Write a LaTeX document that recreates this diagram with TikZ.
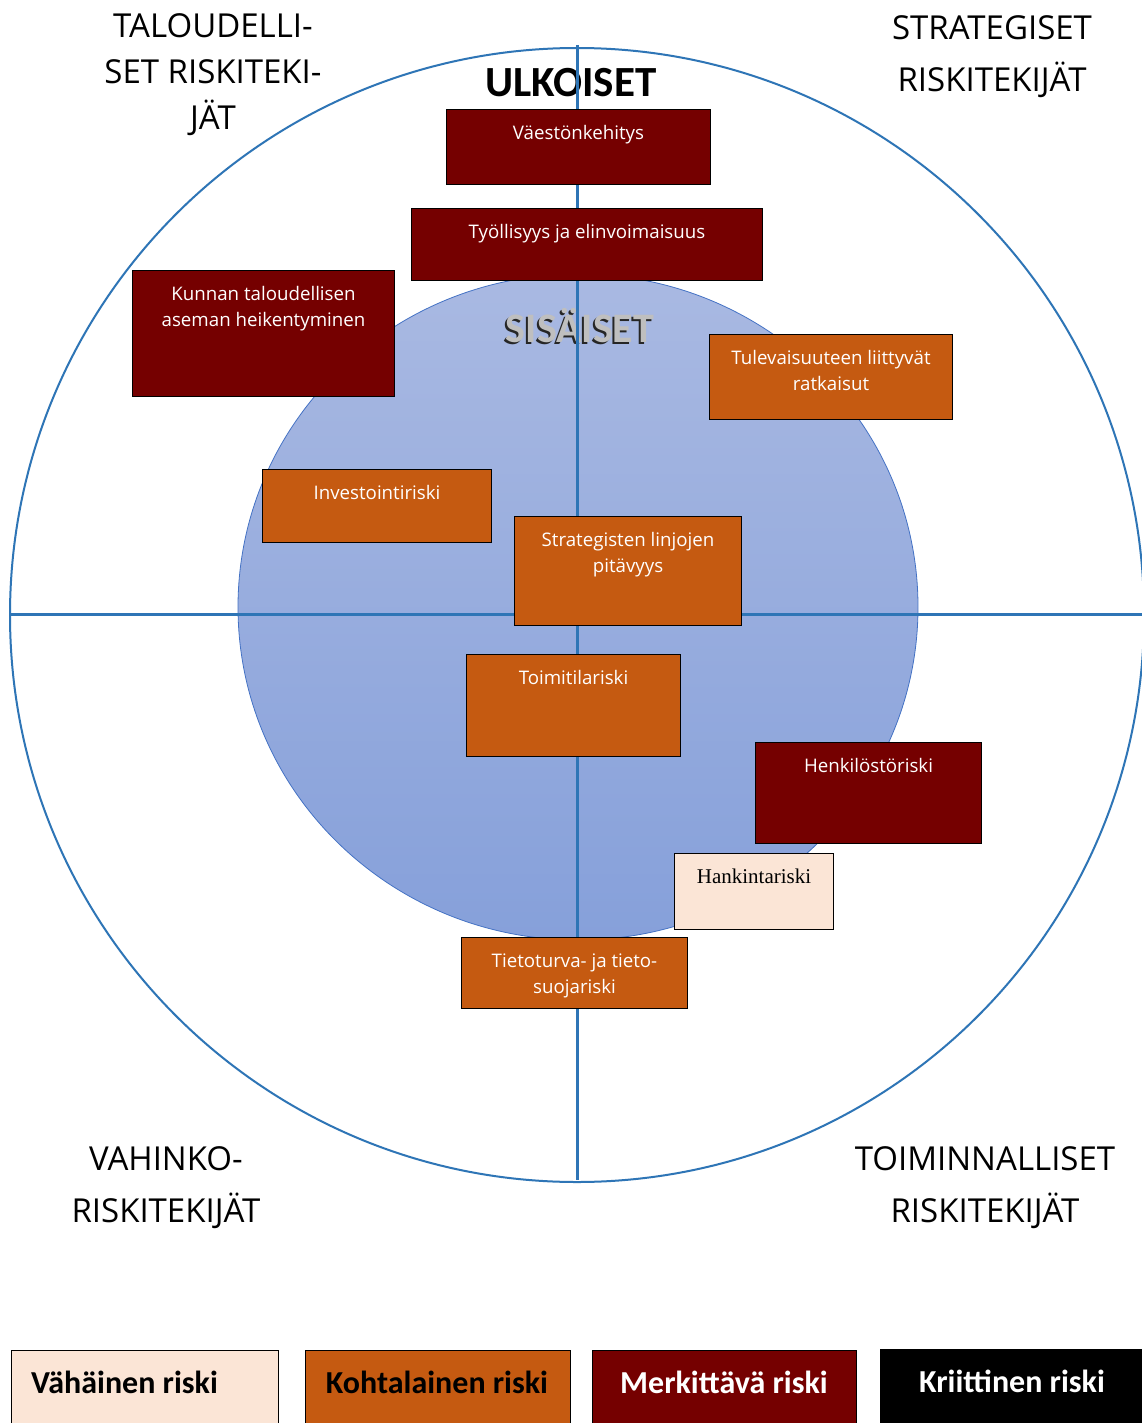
\documentclass[tikz,border=0pt]{standalone}
\usepackage{fontspec}
\setmainfont{Carlito}
\newfontfamily\serifo{Liberation Serif}
\newfontfamily\opens{Open Sans}
\definecolor{dred}{HTML}{750000}
\definecolor{orng}{HTML}{C55A11}
\definecolor{lite}{HTML}{FBE5D6}
\definecolor{lblue}{HTML}{2E75B6}
\definecolor{ctop}{HTML}{A9B9E2}
\definecolor{cbot}{HTML}{86A0DA}
\definecolor{cedge}{HTML}{4472C4}
\definecolor{sgray}{HTML}{BFBFBF}
\tikzset{
  box/.style={draw=black, line width=1pt, anchor=north west, inner sep=0pt},
  rbox/.style={box, fill=dred},
  obox/.style={box, fill=orng},
  lbox/.style={box, fill=lite},
  wtext/.style={text=white, font=\opens\fontsize{18.7}{26}\selectfont, align=center},
  quad/.style={font=\opens\fontsize{33}{52}\selectfont, align=center, text=black},
  axis/.style={draw=lblue, line width=3pt},
  legtext/.style={font=\bfseries\fontsize{32}{34}\selectfont},
}
\begin{document}
\begin{tikzpicture}[x=1pt, y=-1pt]
\useasboundingbox (0,0) rectangle (1142,1423);
\clip (0,0) rectangle (1142,1423);
\fill[white] (0,0) rectangle (1142,1423);
% outer circle
\draw[lblue, line width=2pt] (577,615) circle [radius=567pt];
% inner ellipse
\shade[top color=ctop, bottom color=cbot, draw=cedge, line width=0.8pt] (578,607) ellipse [x radius=340pt, y radius=333pt];
% headings
\node[font=\bfseries\fontsize{43}{45}\selectfont] (ulk) at (571,83) {ULKOISET};
\node[font=\bfseries\fontsize{42}{44}\selectfont, text=black!85] (sisS) at (578,328) {SISÄISET};
\node[font=\bfseries\fontsize{42}{44}\selectfont, text=sgray] (sis) at (580,326) {SISÄISET};
% axes
\coordinate (vt) at (577,45);
\coordinate (vb) at (577,1180);
\coordinate (hl) at (10,614);
\coordinate (hr) at (1142,614);
\draw[axis] (vt) -- (vb);
\draw[axis] (hl) -- (hr);
% quadrant labels
\node[quad, font=\opens\fontsize{33}{46}\selectfont] (q1) at (213,75) {TALOUDELLI-\\SET RISKITEKI-\\JÄT};
\node[quad] (q2) at (992,57) {STRATEGISET\\RISKITEKIJÄT};
\node[quad] (q3) at (166,1188) {VAHINKO-\\RISKITEKIJÄT};
\node[quad] (q4) at (985,1188) {TOIMINNALLISET\\RISKITEKIJÄT};
% boxes
\node[rbox, minimum width=264pt, minimum height=75pt,
  label={[wtext, anchor=north, yshift=-13pt]north:Väestönkehitys}] (b1) at (446,109) {};
\node[rbox, minimum width=351pt, minimum height=72pt,
  label={[wtext, anchor=north, yshift=-13pt]north:Työllisyys ja elinvoimaisuus}] (b2) at (411,208) {};
\node[rbox, minimum width=262pt, minimum height=126pt,
  label={[wtext, anchor=north, yshift=-13pt]north:Kunnan taloudellisen\\aseman heikentyminen}] (b3) at (132,270) {};
\node[obox, minimum width=243pt, minimum height=85pt,
  label={[wtext, anchor=north, yshift=-13pt]north:Tulevaisuuteen liittyvät\\ratkaisut}] (b4) at (709,334) {};
\node[obox, minimum width=229pt, minimum height=73pt,
  label={[wtext, anchor=north, yshift=-13pt]north:Investointiriski}] (b5) at (262,469) {};
\node[obox, minimum width=227pt, minimum height=109pt,
  label={[wtext, anchor=north, yshift=-13pt]north:Strategisten linjojen\\pitävyys}] (b6) at (514,516) {};
\node[obox, minimum width=214pt, minimum height=102pt,
  label={[wtext, anchor=north, yshift=-13pt]north:Toimitilariski}] (b7) at (466,654) {};
\node[rbox, minimum width=226pt, minimum height=101pt,
  label={[wtext, anchor=north, yshift=-13pt]north:Henkilöstöriski}] (b8) at (755,742) {};
\node[lbox, minimum width=159pt, minimum height=76pt,
  label={[text=black, font=\serifo\fontsize{21}{24}\selectfont, anchor=north, yshift=-12pt]north:Hankintariski}] (b9) at (674,853) {};
\node[obox, minimum width=226pt, minimum height=71pt,
  label={[wtext, anchor=north, yshift=-13pt]north:Tietoturva- ja tieto-\\suojariski}] (b10) at (461,937) {};
% legend
\node[lbox, minimum width=267pt, minimum height=90pt] (l1) at (11,1350) {};
\node[obox, minimum width=265pt, minimum height=90pt] (l2) at (305,1350) {};
\node[rbox, minimum width=264pt, minimum height=90pt] (l3) at (592,1350) {};
\node[box, fill=black, minimum width=270pt, minimum height=90pt] (l4) at (880,1349) {};
\node[legtext, text=black, anchor=west, inner sep=0pt] (t1) at (31,1382) {Vähäinen riski};
\node[legtext, text=black] (t2) at (437,1382) {Kohtalainen riski};
\node[legtext, text=white] (t3) at (724,1382) {Merkittävä riski};
\node[legtext, text=white] (t4) at (1012,1381) {Kriittinen riski};
\end{tikzpicture}
\end{document}
